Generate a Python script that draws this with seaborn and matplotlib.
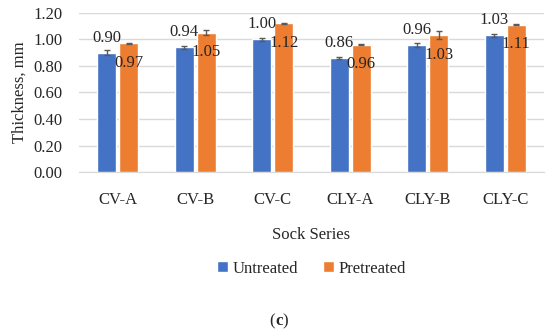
import pandas as pd
import numpy as np
import seaborn as sns
import matplotlib.pyplot as plt

series = ["CV-A", "CV-B", "CV-C", "CLY-A", "CLY-B", "CLY-C"]
untreated = [0.90, 0.94, 1.00, 0.86, 0.96, 1.03]
pretreated = [0.97, 1.05, 1.12, 0.96, 1.03, 1.11]
untreated_err = [0.02, 0.01, 0.01, 0.01, 0.015, 0.01]
pretreated_err = [0.005, 0.02, 0.003, 0.003, 0.03, 0.005]
yticks = [0.0, 0.2, 0.4, 0.6, 0.8, 1.0, 1.2]

sns.set_style("white")
plt.rcParams['font.family'] = ['Liberation Serif', 'DejaVu Serif']
txt = "#262626"
fs = 12

df = pd.DataFrame({
    "Sock Series": series * 2,
    "Thickness": untreated + pretreated,
    "Treatment": ["Untreated"] * 6 + ["Pretreated"] * 6,
})

fig = plt.figure(figsize=(5.5, 3.29), dpi=100)
ax = fig.add_axes([0.1436, 0.4763, 0.8455, 0.4851])
sns.barplot(data=df, x="Sock Series", y="Thickness", hue="Treatment",
            palette=["#4472C4", "#ED7D31"], saturation=1, width=0.57, gap=0.13,
            errorbar=None, ax=ax, zorder=3)

errs = [untreated_err, pretreated_err]
bars = list(ax.containers)
for i, cont in enumerate(bars):
    xs = [p.get_x() + p.get_width() / 2 for p in cont]
    ys = [p.get_height() for p in cont]
    ax.errorbar(xs, ys, yerr=errs[i], fmt="none", ecolor="#595959",
                elinewidth=1, capsize=2.5, capthick=1, zorder=4)
    if i == 0:
        ax.bar_label(cont, fmt="%.2f", padding=5, fontsize=fs, color=txt)
    else:
        ax.bar_label(cont, fmt="%.2f", padding=-20, fontsize=fs, color=txt)

ax.set_ylim(0, 1.2)
ax.set_yticks(yticks)
ax.set_yticklabels([f"{v:.2f}" for v in yticks], fontsize=fs, color=txt)
ax.set_xlim(-0.5, 5.5)
ax.tick_params(axis="x", labelsize=fs, colors=txt, length=0, pad=14)
ax.tick_params(axis="y", length=0, pad=12)
ax.grid(axis="y", color="#D9D9D9", linewidth=1, zorder=0)
for s in ["top", "right", "left"]:
    ax.spines[s].set_visible(False)
ax.spines["bottom"].set_color("#D9D9D9")

ax.set_ylabel("Thickness, mm", fontsize=fs, color=txt, labelpad=4)
ax.set_xlabel("Sock Series", fontsize=fs, color=txt, labelpad=14)

leg = ax.legend(loc="upper center", bbox_to_anchor=(0.5, -0.46), ncol=2,
                frameon=False, fontsize=fs, handlelength=0.65,
                handleheight=0.65, handletextpad=0.3, columnspacing=1.5)
for t in leg.get_texts():
    t.set_color(txt)

fig.text(0.5, 0.0, "(", ha="right", va="bottom", fontsize=fs, color=txt)
fig.text(0.5, 0.0, "c", ha="left", va="bottom", fontsize=fs, color=txt,
         fontweight="bold")
fig.text(0.5 + 0.0135, 0.0, ")", ha="left", va="bottom", fontsize=fs, color=txt)

plt.savefig("out.png", dpi=100)
